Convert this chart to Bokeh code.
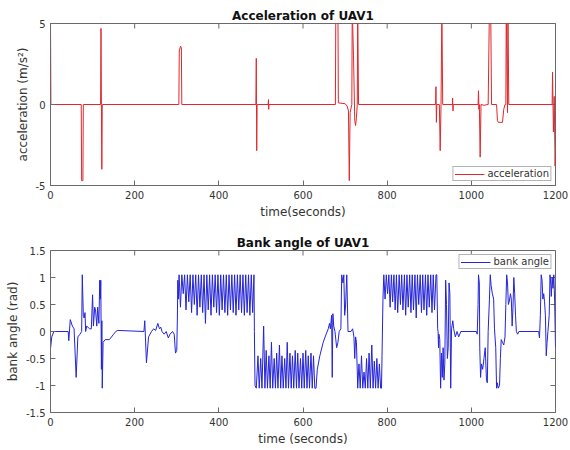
import math
from bokeh.plotting import figure
from bokeh.layouts import column
from bokeh.models import FixedTicker, Range1d
from bokeh.embed import file_html
from bokeh.resources import INLINE

# ---------------- data ----------------
x_ticks = [0, 200, 400, 600, 800, 1000, 1200]
x_tick_labels = ["0", "200", "400", "600", "800", "1000", "1200"]
acc_ticks = [-5, 0, 5]
acc_tick_labels = ["-5", "0", "5"]
bank_ticks = [-1.5, -1, -0.5, 0, 0.5, 1, 1.5]
bank_tick_labels = ["-1.5", "-1", "-0.5", "0", "0.5", "1", "1.5"]

acc_time = [0, 1, 73, 74, 77, 78, 119, 120, 121, 122, 123, 305, 306, 309, 311, 312,
            488, 489, 489.5, 490, 491, 517, 518, 518.5, 519, 677, 678, 683, 684, 700,
            705, 708, 710, 712, 716, 717, 720, 723, 725, 727, 729, 730, 732, 915, 916,
            917, 918, 924, 926, 928, 930, 932, 955, 955.5, 956.5, 957, 1016, 1017, 1018,
            1019, 1021, 1023, 1030, 1035, 1040, 1043, 1046, 1048, 1060, 1062, 1064, 1074,
            1077, 1080, 1082, 1083, 1086, 1087, 1089, 1192, 1193, 1195, 1197, 1199, 1200]
acc_value = [5.0, 0, 0, -4.7, -4.7, 0, 0, 4.7, 0, -4.0, 0, 0, 3.3, 3.6, 3.5, 0,
             0, 2.85, 0, -2.85, 0, 0, 0.3, -0.3, 0, 0, 6, 6, 0.1, 0.05,
             -0.1, -0.4, -4.7, -0.5, 0, 6, 3, -1.0, -1.3, -0.8, 0, 6, 0, 0, 1.1,
             -1.1, 0, 0, -2.85, 0, 6, 0, 0, 0.4, -0.4, 0, 0, 0.85, -0.3,
             0, -3.25, 0, -0.05, -0.02, 0, 6, 6, 0, 0, -1.0, -1.1, -1.1,
             -0.3, 0, 0, 6, -0.5, 6, 0, 0, 2.0, -1.7, 0.5, -3.8, -3.0]

bank_t_start = [0, 3, 8, 42, 43.5, 47, 52, 56, 61, 65, 70, 74, 75.5, 78, 80, 82, 83.5,
                86, 93, 97, 100, 102, 105, 107, 110, 112, 115, 117, 118.5, 119.5, 121,
                122, 123, 125, 130, 140, 150, 155, 160, 222, 224, 228, 233, 240, 245,
                250, 255, 259, 262, 265, 270, 275, 280, 284, 290, 294, 297, 300, 301.5,
                302.5, 304]
bank_v_start = [-0.32, -0.1, 0, 0, -0.17, 0.22, 0.1, 0.05, -0.85, -0.1, -0.05, 0.0, 1.05,
                0.3, 0.25, 0.35, 0.0, 0.1, 0.05, 0.05, 0.68, 0.1, 0.45, 0.4, 0.1, 0.45,
                0.15, 0.95, 0.6, 0.95, -0.7, 0.2, -1.05, -0.2, -0.15, -0.15, -0.05, 0.0,
                0.02, 0.0, 0.2, -0.58, -0.1, 0.0, 0.05, 0.02, 0.15, 0.05, 0.08, 0.0,
                -0.05, 0.0, -0.12, -0.05, 0.0, -0.05, -0.4, -0.35, 0.25, 0.95, 0.6]

bank_t_a = [305.5, 308.8, 312.1, 315.4, 318.7, 322.0, 325.3, 328.6, 331.9, 335.2, 338.5,
            341.8, 345.1, 348.4, 351.7, 355.0, 358.3, 361.6, 364.9, 368.2, 371.5, 374.8,
            378.1, 381.4, 384.7, 388.0, 391.3, 394.6, 397.9, 401.2, 404.5, 407.8, 411.1,
            414.4, 417.7, 421.0, 424.3, 427.6, 430.9, 434.2, 437.5, 440.8, 444.1, 447.4,
            450.7, 454.0, 457.3, 460.6, 463.9, 467.2, 470.5, 473.8, 477.1, 480.4, 483.5,
            484.5, 486]
bank_v_a = [1.05, 0.45, 1.05, 0.7, 1.05, 0.4, 1.05, 0.55, 1.05, 0.35, 1.05, 0.5, 1.05,
            0.3, 1.05, 0.45, 1.05, 0.35, 1.05, 0.15, 1.05, 0.4, 1.05, 0.3, 1.05, 0.45,
            1.05, 0.35, 1.05, 0.3, 1.05, 0.4, 1.05, 0.35, 1.05, 0.3, 1.05, 0.4, 1.05,
            0.35, 1.05, 0.3, 1.05, 0.4, 1.05, 0.35, 1.05, 0.3, 1.05, 0.35, 1.05, 0.3,
            1.05, 0.35, 1.05, 0.0, -1.0]

bank_t_b = [489, 493, 496, 499.5, 502.5, 506.5, 509.5, 512.5, 515.5, 519, 522, 525, 528,
            531.5, 534.5, 537.5, 540.5, 544, 547, 550, 553, 556.5, 559.5, 562.5, 565.5,
            569, 572, 575, 578, 581.5, 584.5, 587.5, 590.5, 594, 597, 600, 603, 606.5,
            609.5, 612.5, 615.5, 619, 622, 625, 628, 631]
bank_v_b = [-1.05, -0.45, -1.05, -0.5, -1.05, 0.1, -1.05, -0.35, -1.05, -0.45, -1.05,
            -0.2, -1.05, -0.5, -1.05, -0.4, -1.05, -0.25, -1.05, -0.45, -1.05, -0.5,
            -1.05, -0.2, -1.05, -0.4, -1.05, -0.45, -1.05, -0.35, -1.05, -0.4, -1.05,
            -0.5, -1.05, -0.4, -1.05, -0.35, -1.05, -0.45, -1.05, -0.4, -1.05, -0.45,
            -1.05, -1.05]

bank_t_mid = [634, 640, 648, 655, 660, 663, 665, 668, 669.5, 671, 673, 676, 680, 683,
              686, 690, 692, 695, 697, 699, 701, 704, 707, 714, 718, 721, 723, 725, 727,
              729]
bank_v_mid = [-0.7, -0.45, -0.2, -0.05, 0.05, 0.15, 0.05, 0.3, -0.85, 0.33, 0.1, 0.0,
              -0.3, -0.2, 0.0, 0.05, 1.05, 0.9, 1.05, 0.3, 0.45, 1.05, 0.0, 0.0, 0.05,
              -0.1, -0.5, -0.1, -0.2, -0.75]

bank_t_c = [730, 733, 736, 739, 742, 745, 748, 751, 754, 757, 760, 763.5, 766.5, 769.5,
            772.5, 775.5, 778.5, 781.5, 784.5, 786.5]
bank_v_c = [-1.05, -0.6, -1.05, -0.45, -1.05, -0.75, -1.05, -0.5, -1.05, -0.4, -1.05,
            -0.25, -1.05, -0.55, -1.05, -0.5, -1.05, -0.6, -1.05, -1.05]

bank_t_d = [790, 792, 795, 798, 801, 804, 807, 810, 813, 816, 819, 822, 825, 828.5,
            831.5, 834.5, 837.5, 841, 844, 847, 850, 853.5, 856.5, 859.5, 862.5, 866,
            869, 872, 875, 878.5, 881.5, 884.5, 887.5, 891, 894, 897, 900, 903.5, 906.5,
            909.5, 912.5, 916, 918]
bank_v_d = [0.6, 1.05, 0.6, 1.05, 0.7, 1.05, 0.45, 1.05, 0.55, 1.05, 0.4, 1.05, 0.35,
            1.05, 0.5, 1.05, 0.4, 1.05, 0.3, 1.05, 0.45, 1.05, 0.35, 1.05, 0.4, 1.05,
            0.25, 1.05, 0.5, 1.05, 0.35, 1.05, 0.4, 1.05, 0.3, 1.05, 0.45, 1.05, 0.35,
            1.05, 0.4, 1.05, 1.05]

bank_t_end = [920, 921, 922, 923, 925, 927, 929, 931, 933, 935, 937, 939, 941, 943, 945,
              947, 949, 951, 953, 956, 958, 962, 966, 970, 975, 1012, 1014, 1016, 1017,
              1019, 1020, 1022, 1024, 1027, 1030, 1033, 1036, 1038, 1040, 1043, 1045,
              1047, 1050, 1053, 1055, 1058, 1060, 1062, 1064, 1067, 1069, 1071, 1074,
              1077, 1080, 1082, 1084, 1086, 1088, 1090, 1093, 1095, 1097, 1099, 1101,
              1103, 1105, 1107, 1110, 1113, 1160, 1162, 1164, 1166, 1168, 1170, 1172,
              1174, 1176, 1178, 1180, 1182, 1185, 1187, 1189, 1190, 1192, 1194, 1196,
              1198, 1200]
bank_v_end = [0.05, 0.0, -0.3, -0.05, -0.15, -1.05, -0.4, -0.85, -0.3, -0.9, -0.6, 0.95,
              0.5, -0.5, -0.3, 0.9, 0.7, -1.05, 0.05, 0.2, 0.05, -0.1, 0.0, -0.1, 0.0,
              0.0, -0.05, 0.5, 1.05, 0.9, -0.3, -0.85, -0.6, -0.7, -0.5, -0.3, -0.9,
              -0.95, 0.0, 0.6, 1.05, 0.85, 0.7, 0.6, 0.05, -0.3, -1.05, -0.95, -1.05,
              -1.0, -0.5, -0.15, -0.2, -0.25, -0.1, 0.5, 1.05, 0.9, 0.5, 0.55, 0.7, 0.6,
              0.1, 0.45, 1.0, 0.7, 0.3, 0.0, -0.05, 0.0, 0.0, -0.12, 0.3, 1.05, 0.95,
              0.6, 0.7, 0.55, 0.3, -0.45, -0.2, 0.0, 0.3, 1.05, 0.85, 0.65, 1.0, 0.8,
              1.05, 0.55, -0.3]

bank_time = bank_t_start + bank_t_a + bank_t_b + bank_t_mid + bank_t_c + bank_t_d + bank_t_end
bank_value = bank_v_start + bank_v_a + bank_v_b + bank_v_mid + bank_v_c + bank_v_d + bank_v_end

FONT = "DejaVu Sans"
FRAME = "#6a6a6a"
TXT = "#333333"
X_MAX = x_ticks[-1]


def make(title, xlabel, ylabel, yr, yt, ylabels, border_top, border_bottom):
    p = figure(width=570, height=225, output_backend="svg", toolbar_location=None,
               x_range=Range1d(x_ticks[0], X_MAX), y_range=Range1d(*yr),
               min_border_left=50, min_border_right=15,
               min_border_top=border_top, min_border_bottom=border_bottom,
               title=title)
    p.title.align = "center"
    p.title.text_font = FONT
    p.title.text_font_size = "12px"
    p.title.text_font_style = "bold"
    p.title.text_color = "#111111"
    p.title.standoff = 2
    p.grid.visible = False
    p.outline_line_color = FRAME
    p.outline_line_width = 1
    p.background_fill_color = "white"
    p.border_fill_color = "white"

    xa = p.below[0]
    ya = p.left[0]
    xa.ticker = FixedTicker(ticks=x_ticks)
    xa.major_label_overrides = dict(zip(x_ticks, x_tick_labels))
    ya.ticker = FixedTicker(ticks=yt)
    ya.major_label_overrides = dict(zip(yt, ylabels))

    for ax in (xa, ya):
        ax.axis_line_color = FRAME
        ax.major_tick_line_color = FRAME
        ax.major_tick_in = 5
        ax.major_tick_out = 0
        ax.minor_tick_line_color = None
        ax.major_label_text_font = FONT
        ax.major_label_text_font_size = "10px"
        ax.major_label_text_color = TXT
        ax.axis_label_text_font = FONT
        ax.axis_label_text_font_size = "12px"
        ax.axis_label_text_font_style = "normal"
        ax.axis_label_text_color = TXT
        ax.axis_label_standoff = 3
        ax.major_label_standoff = 5
    xa.axis_label = xlabel
    ya.axis_label = ylabel

    # mirrored inward ticks on the top and right edges (half of each dash is clipped)
    p.scatter(x_ticks, [yr[1]] * len(x_ticks), marker="dash", angle=math.pi / 2,
              size=10, line_color=FRAME, line_width=1)
    p.scatter([X_MAX] * len(yt), yt, marker="dash", size=10,
              line_color=FRAME, line_width=1)
    return p


p1 = make("Acceleration of UAV1", "time(seconds)", "acceleration (m/s²)",
          (-5, 5), acc_ticks, acc_tick_labels, 23, 40)
p1.line(acc_time, acc_value, line_color="#e0282c", line_width=1, legend_label="acceleration")

p2 = make("Bank angle of UAV1", "time (seconds)", "bank angle (rad)",
          (-1.5, 1.5), bank_ticks, bank_tick_labels, 25, 38)
p2.line(bank_time, bank_value, line_color="#2424d8", line_width=1, legend_label="bank angle")

for p, loc in ((p1, "bottom_right"), (p2, "top_right")):
    lg = p.legend[0]
    lg.location = loc
    lg.margin = 4
    lg.padding = 1
    lg.spacing = 0
    lg.label_text_font = FONT
    lg.label_text_font_size = "10px"
    lg.label_text_color = TXT
    lg.label_height = 10
    lg.glyph_height = 10
    lg.glyph_width = 30
    lg.label_standoff = 3
    lg.border_line_color = FRAME
    lg.border_line_width = 1
    lg.background_fill_alpha = 1.0

layout = column(p1, p2, spacing=0)
open("out.html", "w").write(file_html(layout, INLINE))
